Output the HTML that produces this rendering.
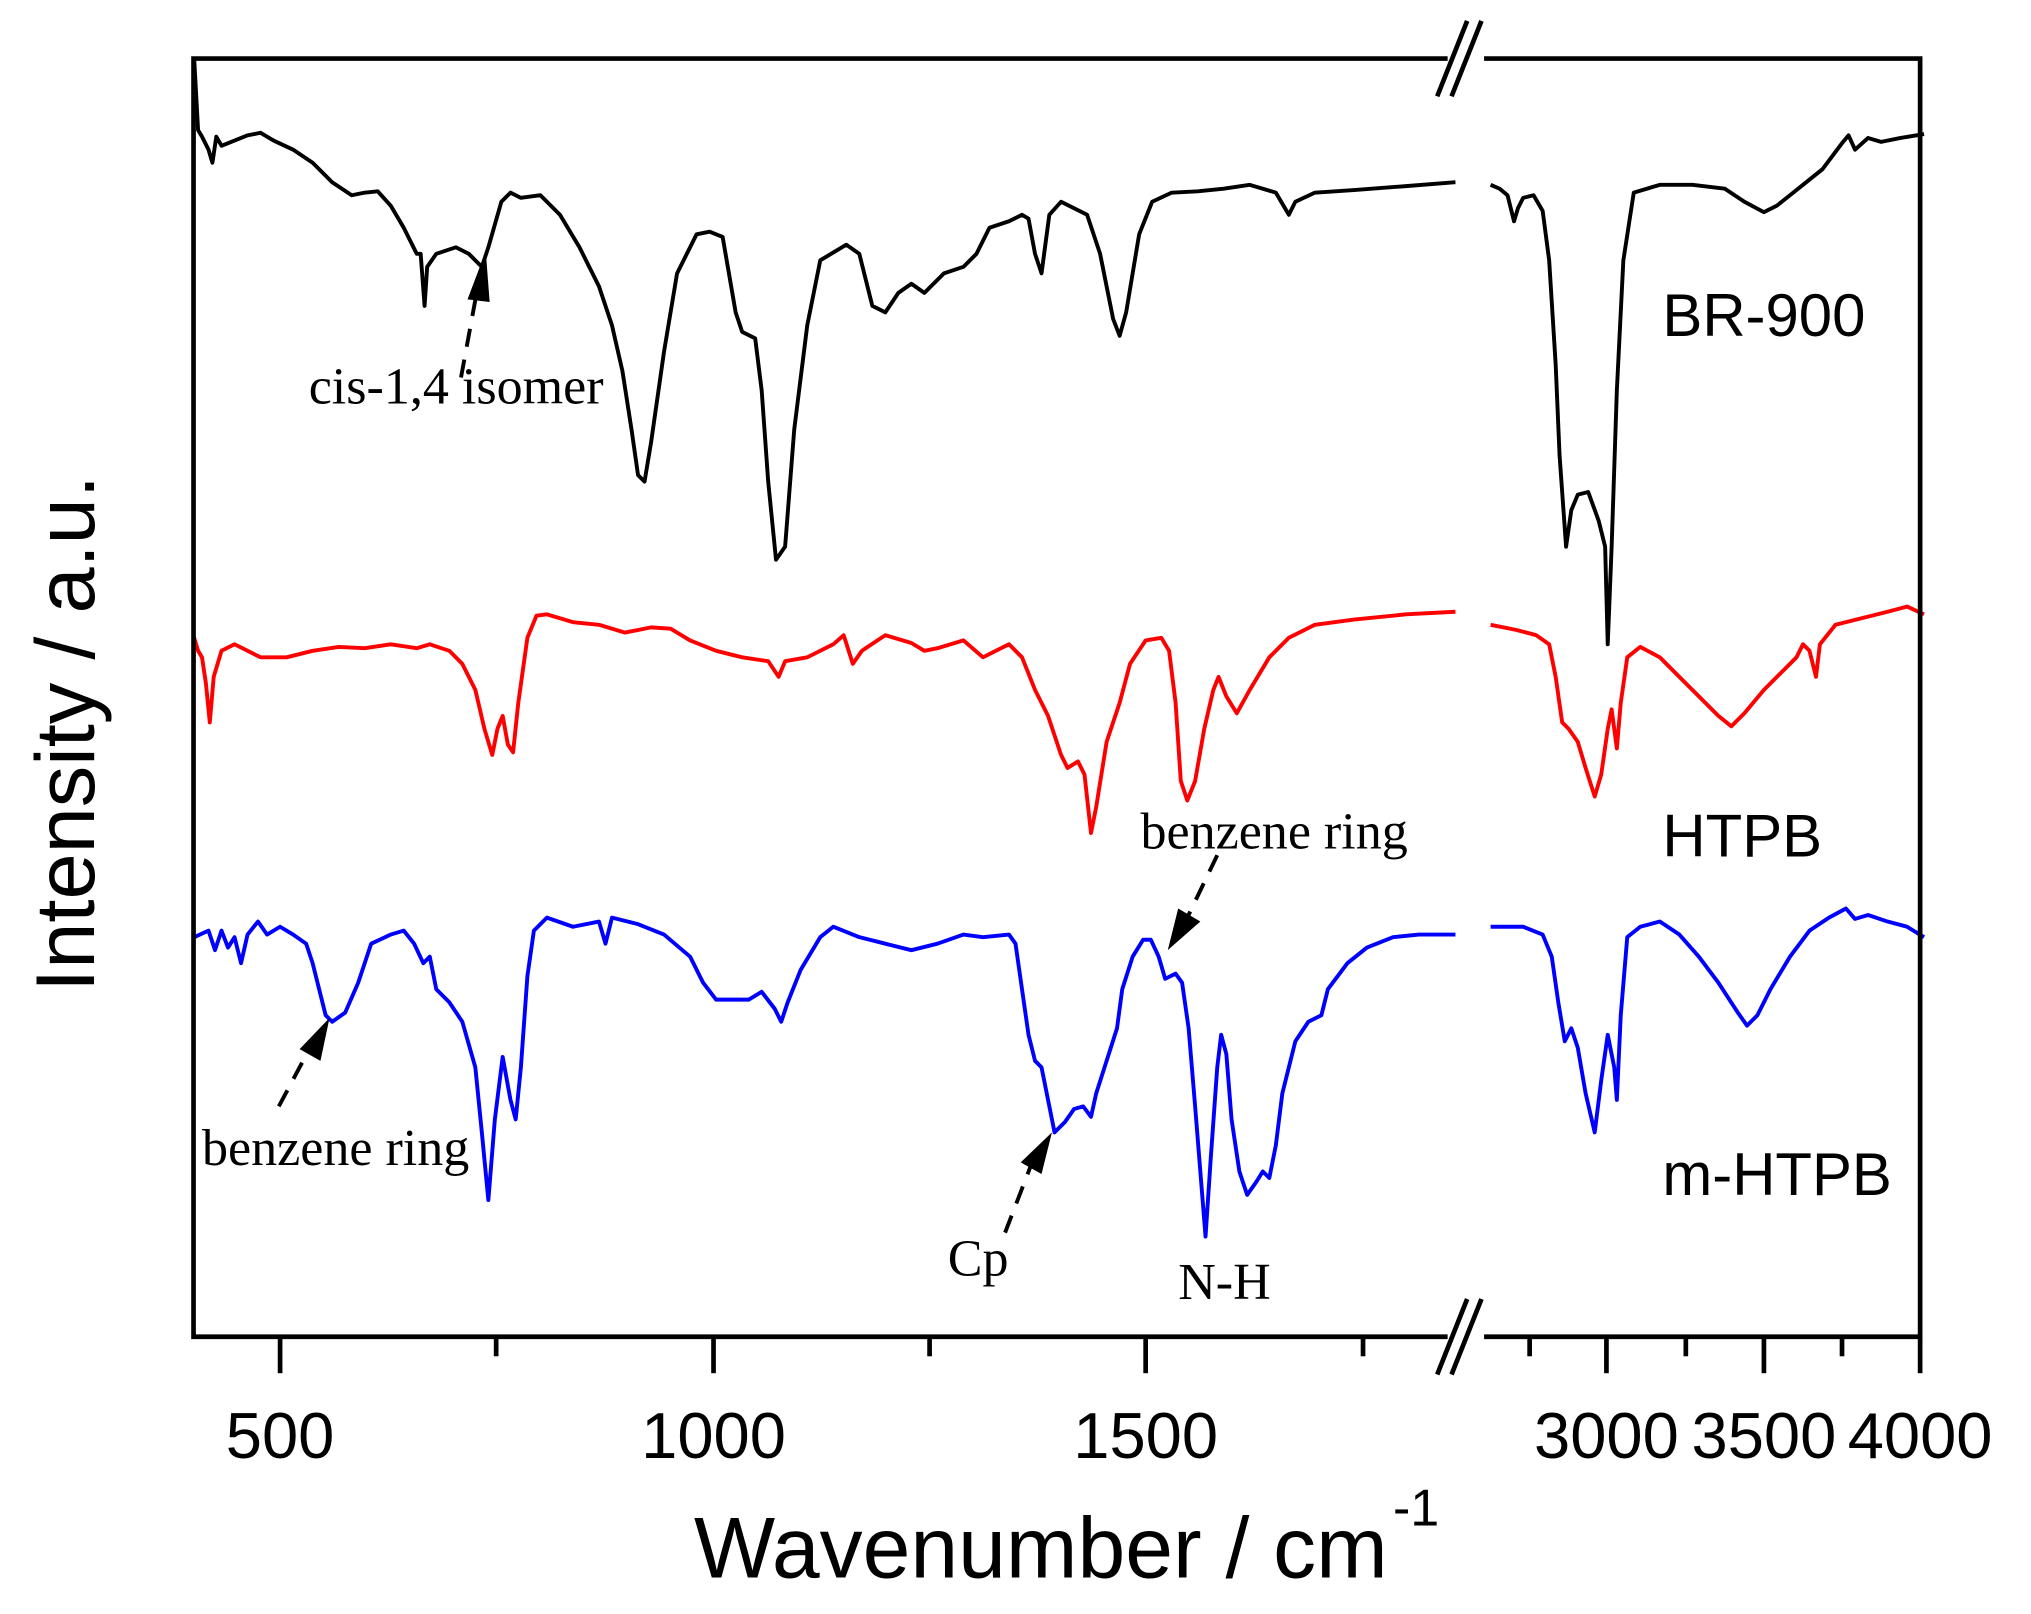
<!DOCTYPE html>
<html><head><meta charset="utf-8"><style>
html,body{margin:0;padding:0;background:#fff;}
svg{display:block;}
</style></head><body>
<svg width="2031" height="1614" viewBox="0 0 1560 1240" xmlns="http://www.w3.org/2000/svg">
<rect width="1560" height="1240" fill="#fff"/>
<g fill="none" stroke-linejoin="round" stroke-width="3">
<polyline stroke="#000" points="149,45 152,100 155,105 160,115 163,125 166,105 170,112 180,108 190,104 200,102 210,108 225,115 240,125 255,140 270,150 280,148 290,147 300,158 310,175 320,195 323,195 326,235 328,205 335,195 350,190 360,195 370,205 375,190 385,155 392,148 400,152 415,150 430,165 445,190 460,220 470,250 478,285 485,330 490,365 495,370 500,340 510,270 520,210 535,180 545,178 555,182 565,240 570,255 580,260 585,300 590,370 596,430 603,420 610,330 620,250 630,200 650,188 660,195 670,235 680,240 690,225 700,218 710,225 725,210 740,205 750,195 760,175 775,170 785,165 790,168 795,195 800,210 802,195 806,165 815,155 825,160 835,165 845,195 855,245 860,258 865,240 875,180 885,155 900,148 920,147 940,145 960,142 970,145 980,148 990,165 995,155 1010,148 1040,146 1080,143 1118,140"/>
<polyline stroke="#000" points="1145,142 1152,145 1158,150 1163,170 1166,160 1170,152 1178,150 1185,162 1190,200 1195,280 1198,350 1203,420 1207,392 1212,380 1220,378 1228,400 1233,420 1235,495 1238,420 1242,300 1247,200 1255,148 1275,142 1300,142 1325,145 1340,155 1355,163 1365,158 1375,150 1385,142 1400,130 1415,110 1420,104 1425,115 1435,106 1445,109 1460,106 1478,103"/>
<polyline stroke="#f00" points="149,490 152,500 155,505 158,525 161,555 164,520 170,500 180,495 190,500 200,505 220,505 240,500 260,497 280,498 300,495 320,498 330,495 345,500 355,510 365,530 372,560 378,580 382,560 386,550 390,572 394,578 398,540 405,490 412,473 420,472 440,478 460,480 480,486 500,482 515,483 530,492 550,500 570,505 590,508 598,520 603,508 620,505 640,495 648,488 655,510 662,500 680,488 700,494 710,500 720,498 740,492 755,505 765,500 775,495 785,505 795,530 805,550 815,580 820,590 828,585 833,595 838,640 842,620 850,570 860,540 868,510 880,492 892,490 898,500 903,540 907,600 912,615 918,600 925,560 932,530 936,520 942,535 950,548 960,530 975,505 990,490 1010,480 1040,476 1080,472 1118,470"/>
<polyline stroke="#f00" points="1145,480 1165,484 1180,488 1190,495 1195,520 1200,555 1205,560 1212,570 1218,590 1225,612 1230,595 1235,560 1238,545 1242,575 1245,540 1250,505 1260,497 1275,505 1290,520 1305,535 1320,550 1330,558 1340,548 1355,530 1370,515 1380,505 1385,495 1390,500 1395,520 1398,495 1410,480 1430,475 1450,470 1465,466 1478,472"/>
<polyline stroke="#00f" points="149,720 160,715 165,730 170,715 175,728 180,720 185,740 190,718 198,708 205,718 215,712 225,718 235,725 240,740 250,780 255,785 265,778 275,755 285,725 300,718 310,715 318,725 325,740 330,735 335,760 345,770 355,785 365,820 370,870 375,922 380,860 386,812 392,845 396,860 400,820 405,750 410,715 420,705 440,712 460,708 465,725 470,705 490,710 510,718 530,735 540,755 550,768 560,768 575,768 585,762 595,775 600,785 605,770 615,745 630,720 640,712 660,720 680,725 700,730 720,725 740,718 755,720 775,718 780,725 785,760 790,795 795,815 800,820 805,845 810,870 818,862 825,852 832,850 838,858 842,840 850,815 858,790 862,760 870,735 878,722 884,722 890,735 895,752 903,748 908,755 913,790 918,850 922,900 926,950 930,890 935,820 938,795 942,810 946,860 952,900 958,918 965,908 970,900 975,905 980,880 985,840 995,800 1005,785 1015,780 1020,760 1035,740 1050,728 1070,720 1090,718 1118,718"/>
<polyline stroke="#00f" points="1145,712 1170,712 1185,718 1192,735 1197,770 1202,800 1207,790 1212,805 1218,840 1225,870 1230,830 1235,795 1240,820 1242,845 1245,780 1250,720 1260,712 1275,708 1290,718 1305,735 1320,755 1335,778 1342,788 1350,780 1360,760 1375,735 1390,715 1405,705 1418,698 1425,706 1435,703 1450,708 1465,712 1478,720"/>
</g>
<g stroke="#000" stroke-width="3.6" fill="none">
<polyline points="1112,45 148.5,45 148.5,1027 1112,1027"/>
<polyline points="1140,45 1475,45 1475,1027 1140,1027"/>
<line x1="215" y1="1027" x2="215" y2="1055"/>
<line x1="548" y1="1027" x2="548" y2="1055"/>
<line x1="880" y1="1027" x2="880" y2="1055"/>
<line x1="1234" y1="1027" x2="1234" y2="1055"/>
<line x1="1355" y1="1027" x2="1355" y2="1055"/>
<line x1="1475" y1="1027" x2="1475" y2="1055"/>
<line x1="381" y1="1027" x2="381" y2="1042"/>
<line x1="714" y1="1027" x2="714" y2="1042"/>
<line x1="1047" y1="1027" x2="1047" y2="1042"/>
<line x1="1175" y1="1027" x2="1175" y2="1042"/>
<line x1="1295" y1="1027" x2="1295" y2="1042"/>
<line x1="1415" y1="1027" x2="1415" y2="1042"/>
<line x1="1104" y1="1056" x2="1127" y2="998"/>
<line x1="1115" y1="1056" x2="1138" y2="998"/>
<line x1="1104" y1="74" x2="1127" y2="16"/>
<line x1="1115" y1="74" x2="1138" y2="16"/>
</g>
<g font-family="Liberation Sans, Arial, sans-serif" font-size="50" fill="#000" text-anchor="middle">
<text x="215" y="1120">500</text>
<text x="548" y="1120">1000</text>
<text x="880" y="1120">1500</text>
<text x="1234" y="1120">3000</text>
<text x="1355" y="1120">3500</text>
<text x="1475" y="1120">4000</text>
</g>
<g font-family="Liberation Sans, Arial, sans-serif" fill="#000">
<text x="533" y="1212" font-size="66">Wavenumber / cm</text>
<text x="1070" y="1172" font-size="40">-1</text>
<text transform="translate(72,762) rotate(-90)" font-size="64" textLength="397" lengthAdjust="spacingAndGlyphs">Intensity / a.u.</text>
<text x="1277" y="258" font-size="46">BR-900</text>
<text x="1277" y="658" font-size="46">HTPB</text>
<text x="1277" y="918" font-size="46">m-HTPB</text>
</g>
<g font-family="Liberation Serif, 'Times New Roman', serif" font-size="40" fill="#000">
<text x="237" y="310">cis-1,4 isomer</text>
<text x="876" y="652">benzene ring</text>
<text x="155" y="895">benzene ring</text>
<text x="728" y="980">Cp</text>
<text x="905" y="998">N-H</text>
</g>
<g stroke="#000" stroke-width="3" stroke-dasharray="14,10" fill="none">
<line x1="354" y1="290" x2="366" y2="225"/>
<line x1="935" y1="657" x2="912" y2="705"/>
<line x1="214" y1="850" x2="238" y2="805"/>
<line x1="772" y1="947" x2="792" y2="895"/>
</g>
<g fill="#000">
<polygon points="373,193 359,230 376,232"/>
<polygon points="897,730 905,698 922,708"/>
<polygon points="253,782 230,806 246,815"/>
<polygon points="808,870 784,893 800,902"/>
</g>
</svg>
</body></html>
